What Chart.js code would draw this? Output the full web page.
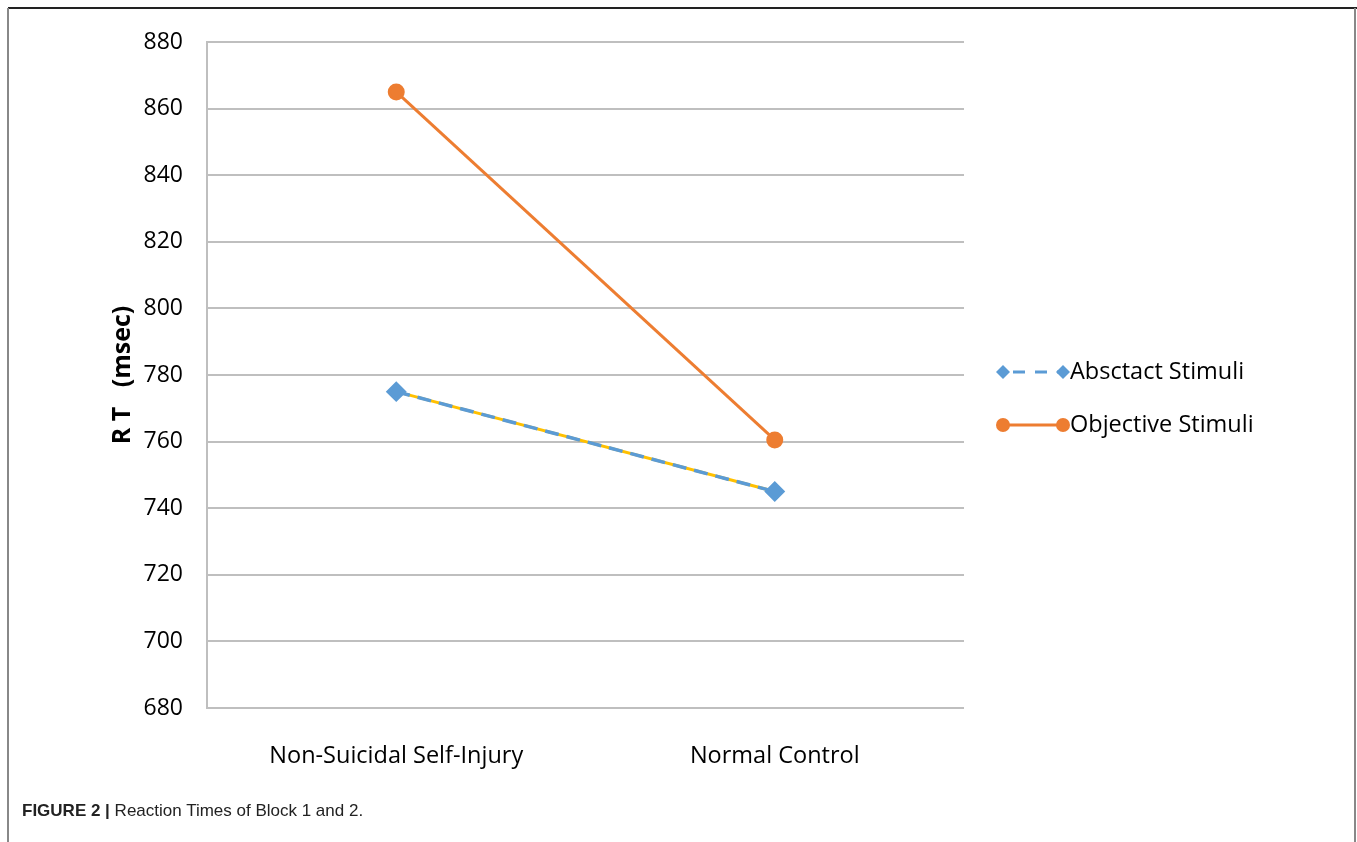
<!DOCTYPE html>
<html>
<head>
<meta charset="utf-8">
<script src="https://cdn.jsdelivr.net/npm/chart.js@4.4.1/dist/chart.umd.min.js"></script>
<style>
  html, body { margin: 0; padding: 0; background: #fff; }
  #wrap { position: relative; width: 1357px; height: 842px; overflow: hidden; }
  #c { position: absolute; left: 0; top: 0; }
  .bt { position: absolute; left: 8px; top: 7px; width: 1349px; height: 2px; background: #222; }
  .bl { position: absolute; left: 7px; top: 8px; width: 2px; height: 834px; background: #888; }
  .br { position: absolute; left: 1354px; top: 8px; width: 2px; height: 834px; background: #888; }
  #cap { position: absolute; left: 22px; top: 801px; font-family: "Liberation Sans", Arial, sans-serif; font-size: 17px; color: #222; }
  #cap b { font-weight: bold; }
</style>
</head>
<body>
<div id="wrap">
  <canvas id="c" width="1357" height="842"></canvas>
  <div class="bt"></div><div class="bl"></div><div class="br"></div>
  <div id="cap"><b>FIGURE 2 |</b> Reaction Times of Block 1 and 2.</div>
</div>
<script>
const categories = ["Non-Suicidal Self-Injury", "Normal Control"];
const abstractStimuli = [775, 745];
const objectiveStimuli = [865, 760.5];
const seriesNames = ["Absctact Stimuli", "Objective Stimuli"];
const yTicks = [680, 700, 720, 740, 760, 780, 800, 820, 840, 860, 880];

const BLUE = "#5B9BD5", ORANGE = "#ED7D31", YELLOW = "#FFC000";
const FONT = "'Open Sans', 'Noto Sans', sans-serif";

const legendPlugin = {
  id: "customLegend",
  afterDraw(chart) {
    const ctx = chart.ctx;
    ctx.save();
    const x0 = 1003, x1 = 1063;
    // item 1
    let y = 372;
    ctx.strokeStyle = BLUE; ctx.lineWidth = 3; ctx.setLineDash([12, 10]);
    ctx.lineDashOffset = -10;
    ctx.beginPath(); ctx.moveTo(x0, y); ctx.lineTo(x1, y); ctx.stroke();
    ctx.setLineDash([]);
    ctx.fillStyle = BLUE;
    [x0, x1].forEach(x => {
      ctx.beginPath(); ctx.moveTo(x, y - 7); ctx.lineTo(x + 7, y); ctx.lineTo(x, y + 7); ctx.lineTo(x - 7, y); ctx.closePath(); ctx.fill();
    });
    ctx.fillStyle = "#000"; ctx.font = "23.5px " + FONT; ctx.textBaseline = "middle"; ctx.textAlign = "left";
    ctx.fillText(seriesNames[0], 1070, y);
    // item 2
    y = 425;
    ctx.strokeStyle = ORANGE; ctx.lineWidth = 3;
    ctx.beginPath(); ctx.moveTo(x0, y); ctx.lineTo(x1, y); ctx.stroke();
    ctx.fillStyle = ORANGE;
    [x0, x1].forEach(x => { ctx.beginPath(); ctx.arc(x, y, 7, 0, Math.PI * 2); ctx.fill(); });
    ctx.fillStyle = "#000";
    ctx.fillText(seriesNames[1], 1070, y);
    ctx.restore();
  }
};

new Chart(document.getElementById("c"), {
  type: "line",
  data: {
    labels: categories,
    datasets: [
      { label: seriesNames[0] + " (under)", data: abstractStimuli, borderColor: YELLOW, borderWidth: 3, pointRadius: 0, order: 3 },
      { label: seriesNames[0], data: abstractStimuli, borderColor: BLUE, backgroundColor: BLUE, borderWidth: 3.5, borderDash: [14, 8],
        pointStyle: "rectRot", pointRadius: 8, pointBackgroundColor: BLUE, pointBorderColor: BLUE, order: 1 },
      { label: seriesNames[1], data: objectiveStimuli, borderColor: ORANGE, backgroundColor: ORANGE, borderWidth: 3,
        pointStyle: "circle", pointRadius: 7, pointBackgroundColor: ORANGE, pointBorderColor: ORANGE, order: 2 }
    ]
  },
  options: {
    responsive: false,
    animation: false,
    devicePixelRatio: 1,
    layout: { padding: { left: 108, right: 393, top: 42, bottom: 64 } },
    plugins: { legend: { display: false }, tooltip: { enabled: false } },
    scales: {
      x: {
        offset: true,
        grid: { display: false },
        border: { display: false },
        ticks: { color: "#000", font: { family: FONT, size: 23.5 }, padding: 26 },
        afterFit(s) { s.height = 70; }
      },
      y: {
        min: 680, max: 880,
        afterBuildTicks(s) { s.ticks = yTicks.map(v => ({ value: v })); },
        grid: { color: "#BFBFBF", lineWidth: 2, drawTicks: false },
        border: { display: true, color: "#BFBFBF", width: 2 },
        ticks: { color: "#000", font: { family: FONT, size: 23 }, padding: 24 },
        title: { display: true, text: "R T   (msec)", color: "#000", font: { family: FONT, size: 25, weight: "bold" }, padding: 0 },
        afterFit(s) { s.width = 99; }
      }
    }
  },
  plugins: [legendPlugin]
});
</script>
</body>
</html>
